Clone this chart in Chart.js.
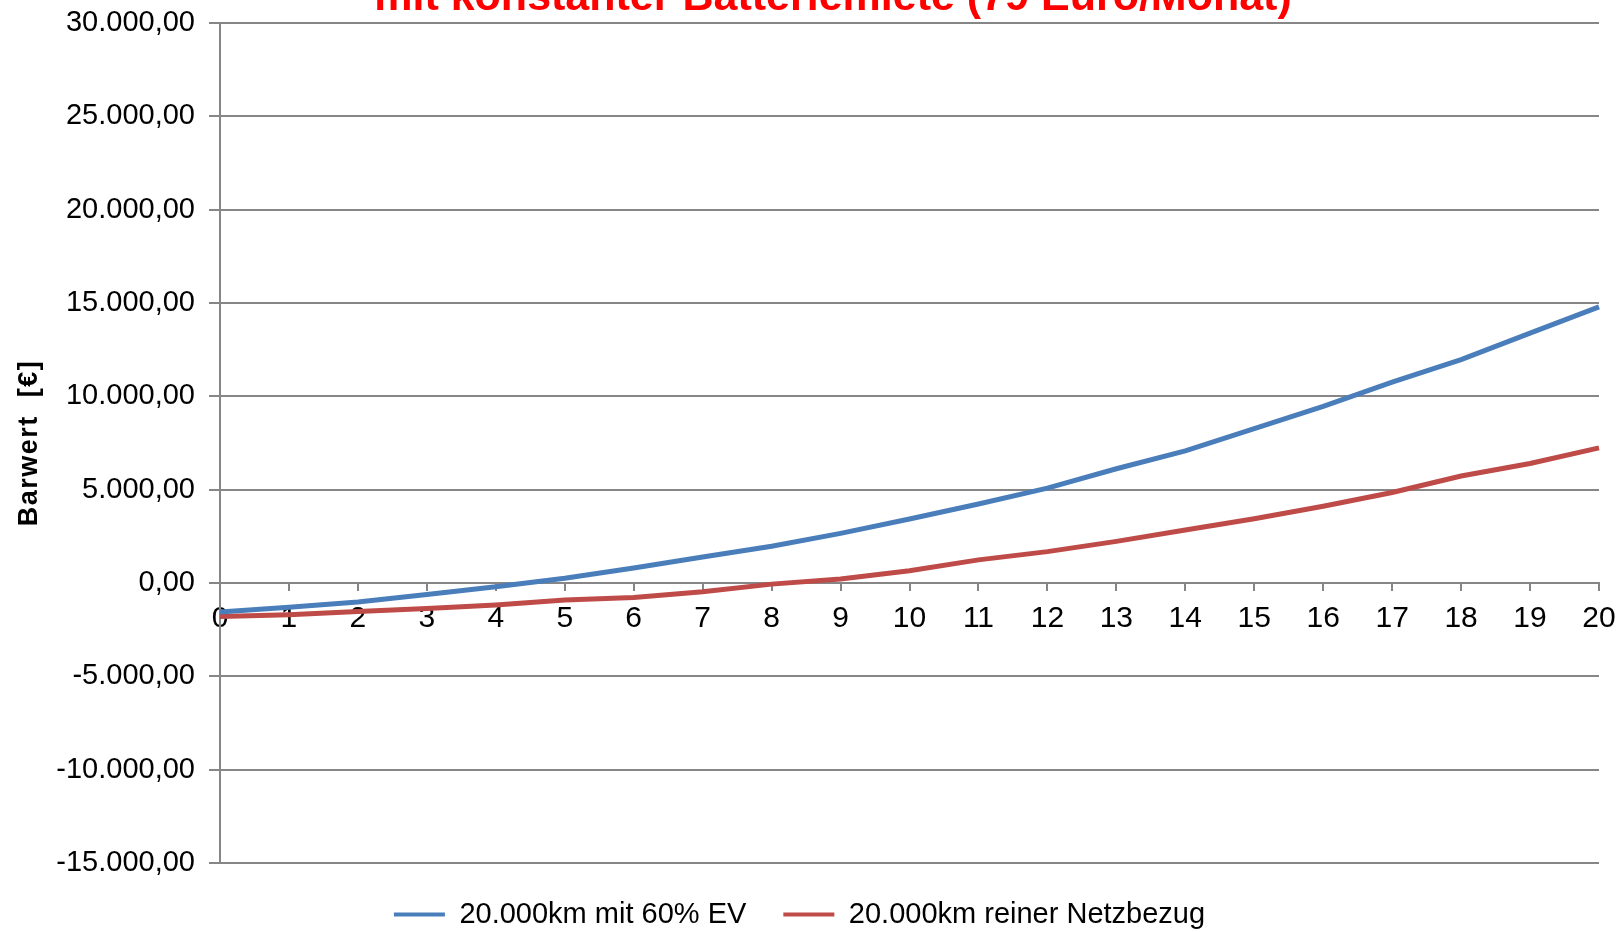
<!DOCTYPE html>
<html lang="de">
<head>
<meta charset="utf-8">
<title>Barwert</title>
<script src="https://cdn.jsdelivr.net/npm/chart.js@4.4.1/dist/chart.umd.min.js"></script>
<style>
  html, body { margin: 0; padding: 0; background: #fff; overflow: hidden; }
  #wrap { position: relative; width: 1623px; height: 932px; overflow: hidden; }
  #c { position: absolute; left: 0; top: 0; }
  #title {
    position: absolute; left: 233px; width: 1200px; top: -26px;
    text-align: center; white-space: nowrap;
    font: bold 43px "Liberation Sans", Arial, sans-serif; line-height: 43px;
    color: #ff0000;
  }
</style>
</head>
<body>
<div id="wrap">
  <canvas id="c" width="1623" height="932"></canvas>
  <div id="title">mit konstanter Batteriemiete (79 Euro/Monat)</div>
</div>
<script>
// Jahre der Betrachtung
const years = ['0','1','2','3','4','5','6','7','8','9','10','11','12','13','14','15','16','17','18','19','20'];

// Barwert in Euro je Jahr
const seriesEV = [-1550, -1300, -1020, -620, -200, 250, 800, 1390, 1970, 2660, 3430,
                  4230, 5080, 6120, 7080, 8270, 9460, 10760, 11970, 13390, 14790];
const seriesNetz = [-1800, -1700, -1530, -1370, -1180, -910, -780, -470, -60, 210, 660,
                    1240, 1680, 2230, 2840, 3440, 4110, 4850, 5730, 6400, 7240];

const seriesNames = ['20.000km mit 60% EV', '20.000km reiner Netzbezug'];
const seriesColors = ['#4A7EBB', '#BE4B48'];

const yMin = -15000, yMax = 30000, yStep = 5000;
const yTitle = 'Barwert  [\u20AC]';

const FONT = '"Liberation Sans", Arial, sans-serif';
const GRID = '#868686';

// Zahlenformat 30.000,00
function fmtDE(v) {
  const neg = v < 0;
  const n = Math.abs(v);
  const int = Math.floor(n).toString().replace(/\B(?=(\d{3})+(?!\d))/g, '.');
  const dec = Math.round((n - Math.floor(n)) * 100).toString().padStart(2, '0');
  return (neg ? '-' : '') + int + ',' + dec;
}

// leicht gesperrte Achsenbeschriftung
const spacedTitle = {
  id: 'spacedTitle',
  afterLayout(chart) {
    const s = chart.scales.y;
    if (!s || s._spaced) return;
    const orig = s.drawTitle;
    s.drawTitle = function (...args) {
      const ctx = this.ctx;
      ctx.save();
      ctx.letterSpacing = '1.5px';
      orig.apply(this, args);
      ctx.restore();
    };
    s._spaced = true;
  }
};

new Chart(document.getElementById('c'), {
  type: 'line',
  data: {
    labels: years,
    datasets: [
      { label: seriesNames[0], data: seriesEV, borderColor: seriesColors[0], backgroundColor: seriesColors[0],
        borderWidth: 5, pointRadius: 0, tension: 0, fill: false },
      { label: seriesNames[1], data: seriesNetz, borderColor: seriesColors[1], backgroundColor: seriesColors[1],
        borderWidth: 5, pointRadius: 0, tension: 0, fill: false }
    ]
  },
  plugins: [spacedTitle],
  options: {
    responsive: false,
    animation: false,
    devicePixelRatio: 1,
    layout: { padding: { top: 23, right: 24, bottom: -7, left: 0 } },
    plugins: {
      title: { display: false },
      tooltip: { enabled: false },
      legend: {
        position: 'bottom',
        labels: {
          font: { family: FONT, size: 29 },
          color: '#000',
          boxWidth: 51,
          boxHeight: 4,
          padding: 37,
          generateLabels(chart) {
            return chart.data.datasets.map((ds, i) => ({
              text: ds.label, fillStyle: ds.borderColor, strokeStyle: ds.borderColor,
              lineWidth: 0, hidden: false, datasetIndex: i, fontColor: '#000'
            }));
          }
        }
      }
    },
    scales: {
      x: {
        type: 'category',
        position: { y: 0 },
        offset: false,
        afterFit(s) { s.paddingLeft = 0; s.paddingRight = 0; },
        grid: { display: true, drawOnChartArea: false, drawTicks: true, tickLength: 7, color: GRID, lineWidth: 2, offset: false },
        border: { display: true, color: GRID, width: 2 },
        ticks: { font: { family: FONT, size: 30 }, color: '#000', autoSkip: false, maxRotation: 0, padding: 11 }
      },
      y: {
        min: yMin, max: yMax,
        afterFit(s) { s.width = 220; s.paddingTop = 0; s.paddingBottom = 0; },
        grid: { color: GRID, lineWidth: 2, drawTicks: true, tickLength: 11 },
        border: { display: true, color: GRID, width: 2 },
        ticks: { stepSize: yStep, font: { family: FONT, size: 29 }, color: '#000', padding: 14,
                 callback: (v) => fmtDE(v) },
        title: { display: true, text: yTitle, font: { family: FONT, size: 27, weight: 'bold' }, color: '#000',
                 padding: { top: 13, bottom: 0 } }
      }
    }
  }
});
</script>
</body>
</html>
